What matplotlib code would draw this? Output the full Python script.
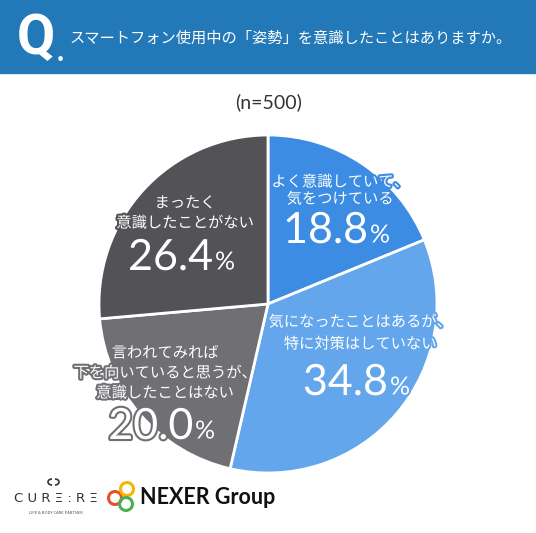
import matplotlib.pyplot as plt
import matplotlib.patheffects as pe
from matplotlib.patches import Rectangle, Circle, Arc

plt.rcParams['font.family'] = ['Noto Sans CJK JP', 'DejaVu Sans']

# data
labels = ['よく意識していて、\n気をつけている',
          '気になったことはあるが、\n特に対策はしていない',
          '言われてみれば\n下を向いていると思うが、\n意識したことはない',
          'まったく\n意識したことがない']
values = [18.8, 34.8, 20.0, 26.4]
colors = ['#3b8ce2', '#63a6ec', '#6f6f74', '#535357']
question = 'スマートフォン使用中の「姿勢」を意識したことはありますか。'
n_label = '(n=500)'

W, H = 536, 533
fig = plt.figure(figsize=(W / 100, H / 100), dpi=100)

# pie placed in pixel space
cx, cy, r = 268, 304, 169
pax = fig.add_axes([(cx - r) / W, (H - cy - r) / H, 2 * r / W, 2 * r / H])
wedges, _ = pax.pie(values, colors=colors, startangle=90, counterclock=False,
                    wedgeprops=dict(edgecolor='white', linewidth=2))
pax.set_xlim(-1, 1)
pax.set_ylim(-1, 1)
pax.axis('off')

# overlay axes in pixel coords for header, labels and logos
ax = fig.add_axes([0, 0, 1, 1])
ax.set_xlim(0, W)
ax.set_ylim(H, 0)
ax.axis('off')
ax.patch.set_alpha(0)

ax.add_patch(Rectangle((0, 0), W, 73, color='#2379b8', zorder=0))
ax.text(17, 39, 'Q', color='white', fontsize=40, fontweight='semibold',
        family='Roboto', ha='left', va='center')
ax.text(57, 52, '.', color='white', fontsize=22, fontweight='bold',
        family='Lato', ha='left', va='center')
ax.text(69, 38, question, color='white', fontsize=11, ha='left', va='center')

ax.text(269, 102, n_label, color='#333333', fontsize=14, family='Lato',
        ha='center', va='center')

# label layout: (x center, y of first text line, y of number)
lab_pos = [(340, 182, 231), (360, 322, 383), (165, 353, 427), (185, 203, 258)]
line_h = [17, 22, 20, 20]
for i, (lab, v) in enumerate(zip(labels, values)):
    x, y0, yn = lab_pos[i]
    stroke = [pe.withStroke(linewidth=3, foreground=colors[i])]
    for k, line in enumerate(lab.split('\n')):
        ax.text(x, y0 + k * line_h[i], line, color='white', fontsize=11,
                ha='center', va='center', path_effects=stroke)
    ax.text(x + 28, yn, f'{v:.1f}', color='white', fontsize=31, family='Lato',
            ha='right', va='center', path_effects=stroke)
    ax.text(x + 30, yn + 4, '%', color='white', fontsize=18, family='Lato',
            ha='left', va='center', path_effects=stroke)

# logos
ax.add_patch(Arc((52, 482), 8, 6, theta1=90, theta2=270, color='#333333', lw=1.2))
ax.add_patch(Arc((55, 482), 8, 6, theta1=-90, theta2=90, color='#333333', lw=1.2))
ax.text(56, 498, 'C U R Ξ : R Ξ', color='#333333', fontsize=9.5, family='DejaVu Sans',
        ha='center', va='center')
ax.text(56, 513, 'LIFE & BODY CARE PARTNER', color='#555555', fontsize=3,
        ha='center', va='center')
ax.add_patch(Circle((115, 498), 6.5, fill=False, ec='#e8502a', lw=2.2))
ax.add_patch(Circle((127, 489), 6.5, fill=False, ec='#f2b705', lw=2.2))
ax.add_patch(Circle((126, 504), 6.5, fill=False, ec='#4caf50', lw=2.2))
ax.text(140, 497, 'NEXER Group', color='#111111', fontsize=15.5, fontweight='bold',
        family='Lato', ha='left', va='center')

fig.savefig('out.png', dpi=100)
